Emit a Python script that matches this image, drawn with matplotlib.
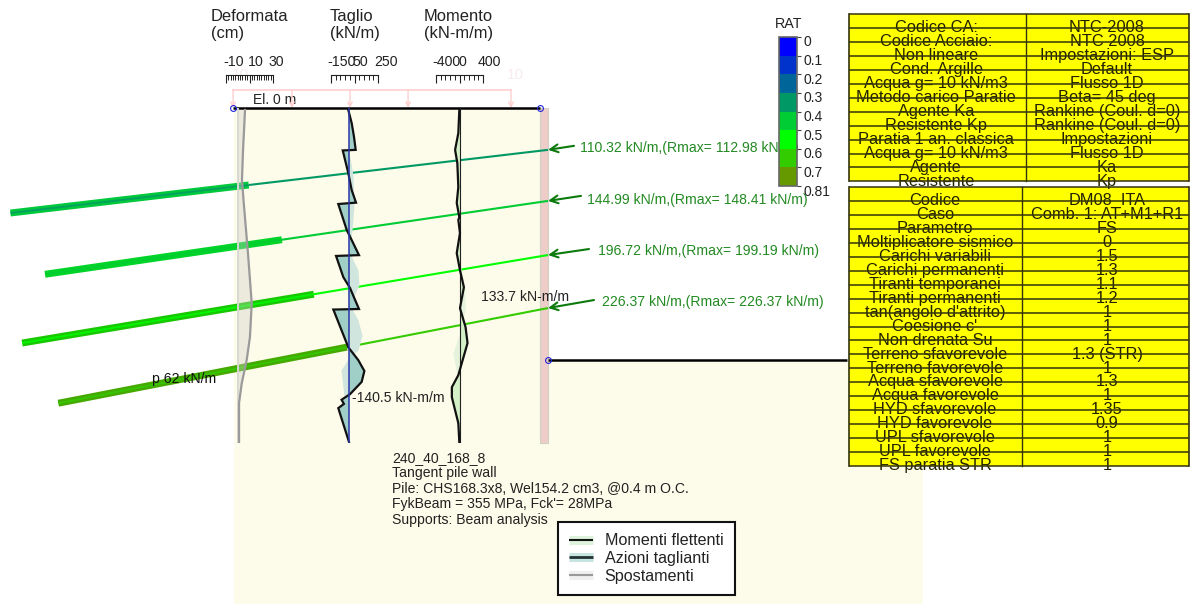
import numpy as np
import matplotlib
matplotlib.use("Agg")
import matplotlib.pyplot as plt
from matplotlib.colors import ListedColormap, BoundaryNorm
from matplotlib.colorbar import Colorbar
from matplotlib.lines import Line2D
from matplotlib.patches import Rectangle, Polygon
from matplotlib.ticker import FixedLocator, FixedFormatter
from matplotlib.transforms import ScaledTranslation
import matplotlib.patheffects as pe

plt.rcParams['font.family'] = ['Liberation Sans', 'DejaVu Sans']

# ---------- data ----------
WALL_DEPTH = 12.0
SHEAR_DEPTH = [.07, .54, 1.04, 1.5, 1.52, 2.33, 2.94, 3.39, 3.44, 4.37, 4.73, 5.27, 5.30, 6.06, 6.45, 7.20, 7.22, 8.57, 9.03, 9.42, 9.81, 10.25, 10.45, 10.6, 10.75, 11.96]
SHEAR_VAL = [-3, 26, 46, 60, -50, -3, 26, 63, -88, -16, 26, 88, -107, -45, 12, 88, -130, -3, 82, 134, 111, 12, -60, -40, -88, 3]
SHEAR_GHOST_DEPTH = [1.5, 2.4, 3.48, 4.37, 4.91, 5.38, 5.81, 6.34, 6.81, 7.06, 7.6, 8.14, 8.67, 8.96, 9.39, 10.29, 10.54]
SHEAR_GHOST_VAL = [0, 37, 46, 29, 12, 29, 80, 88, 37, 12, 80, 114, 80, 0, -65, -40, 0]
MOMENT_DEPTH = [.07, .9, 1.5, 1.97, 2.83, 3.4, 3.91, 4.01, 4.48, 5.2, 5.81, 6.42, 7.17, 7.85, 8.42, 9.57, 10.0, 10.36, 11.29, 11.97]
MOMENT_VAL = [-3, -20, -75, -37, -20, -47, -3, -20, 8, -47, 8, 75, 8, 103, 137, -20, -130, -130, -20, -3]
MOMENT_GHOST_DEPTH = [5.5, 6.4, 7.17, 7.6, 8.06, 8.78, 9.5, 9.75]
MOMENT_GHOST_VAL = [0, 90, 100, 60, 0, -113, -45, 0]
DISP_DEPTH = [.07, 1.5, 2.58, 3.4, 5.2, 7.0, 8.2, 9.03, 9.86, 10.57, 12.0]
DISP_VAL = [6.2, 4.5, 3.6, 5.1, 8.7, 11.9, 10.4, 7.6, 3.4, 1.1, 1.1]

ANCHOR_DEPTH = [1.5, 3.33, 5.27, 7.17]
ANCHOR_ANGLE = [6.7, 8.3, 9.5, 11.0]
ANCHOR_FREE = [10.8, 9.64, 8.51, 7.34]
ANCHOR_BOND = [8.6, 8.58, 10.6, 10.54]
ANCHOR_RAT = [0.35, 0.45, 0.55, 0.65]
ANCHOR_FORCE = [110.32, 144.99, 196.72, 226.37]
ANCHOR_RMAX = [112.98, 148.41, 199.19, 226.37]

LOAD_POS = [-11.0, -8.89, -6.81, -4.73, -1.04]
LOAD_VAL = 10
STRUT_DEPTH = 9.03
STRUT_LEN = 10.7

RAT_BOUNDS = [0, .1, .2, .3, .4, .5, .6, .7, .81]
RAT_LABELS = ['0', '0.1', '0.2', '0.3', '0.4', '0.5', '0.6', '0.7', '0.81']
RAT_COLORS = ['#0000ff', '#0033cc', '#006699', '#009966', '#00cc33', '#00ff00', '#33cc00', '#669900']

TABLE1_LEFT = ['Codice CA:', 'Codice Acciaio:', 'Non lineare', 'Cond. Argille', 'Acqua g= 10 kN/m3',
               'Metodo carico Paratie', 'Agente Ka', 'Resistente Kp', 'Paratia 1 an. classica',
               'Acqua g= 10 kN/m3', 'Agente', 'Resistente']
TABLE1_RIGHT = ['NTC-2008', 'NTC 2008', 'Impostazioni: ESP', 'Default', 'Flusso 1D', 'Beta= 45 deg',
                'Rankine (Coul. d=0)', 'Rankine (Coul. d=0)', 'Impostazioni', 'Flusso 1D', 'Ka', 'Kp']
TABLE2_LEFT = ['Codice', 'Caso', 'Parametro', 'Moltiplicatore sismico', 'Carichi variabili', 'Carichi permanenti',
               'Tiranti temporanei', 'Tiranti permanenti', "tan(angolo d'attrito)", "Coesione c'", 'Non drenata Su',
               'Terreno sfavorevole', 'Terreno favorevole', 'Acqua sfavorevole', 'Acqua favorevole',
               'HYD sfavorevole', 'HYD favorevole', 'UPL sfavorevole', 'UPL favorevole', 'FS paratia STR']
TABLE2_RIGHT = ['DM08_ITA', 'Comb. 1: AT+M1+R1', 'FS', '0', '1.5', '1.3', '1.1', '1.2', '1', '1', '1', '1.3 (STR)',
                '1', '1.3', '1', '1.35', '0.9', '1', '1', '1']
INFO_LINES = ['240_40_168_8', 'Tangent pile wall', 'Pile: CHS168.3x8, Wel154.2 cm3, @0.4 m O.C.',
              "FykBeam = 355 MPa, Fck'= 28MPa", 'Supports: Beam analysis']
LEGEND_LABELS = ['Momenti flettenti', 'Azioni taglianti', 'Spostamenti']

# ---------- layout ----------
W, H = 1190, 604
PX_M = 27.9
TOP_PX, BOT_PX, WALL_PX = 108, 443, 540
fig = plt.figure(figsize=(W / 100, H / 100), dpi=100, facecolor='white')


def overlay(z):
    a = fig.add_axes([0, 0, 1, 1], zorder=z)
    a.set_xlim(0, W)
    a.set_ylim(H, 0)
    a.axis('off')
    return a


base = overlay(0)
top = overlay(6)
model = fig.add_axes([0, 0, 1, 1], zorder=1)
model.set_xlim(-WALL_PX / PX_M, (W - WALL_PX) / PX_M)
model.set_ylim((H - TOP_PX) / PX_M, -TOP_PX / PX_M)
model.axis('off')

CREAM = '#FDFBE9'
base.add_patch(Polygon([(234, 108), (540, 108), (540, 360), (923, 360), (923, 604), (234, 604)],
                       closed=True, fc=CREAM, ec='none', zorder=0))


def table(ax, left, right, y0, xmid, lc, rc):
    rh = 13.95
    x0, x1 = 849, 1189
    n = len(left)
    y1 = y0 + n * rh
    ax.add_patch(Rectangle((x0, y0), x1 - x0, n * rh, fc='#FFFF00', ec='none', zorder=2))
    for i, (a, b) in enumerate(zip(left, right)):
        yy = y0 + (i + 1) * rh - 0.3
        ax.text(lc, yy, a, ha='center', va='center', fontsize=11.8, color='#222200', zorder=3, clip_on=False)
        ax.text(rc, yy, b, ha='center', va='center', fontsize=11.8, color='#222200', zorder=3, clip_on=False)
    for i in range(n + 1):
        ax.plot([x0, x1], [y0 + i * rh] * 2, color='#33330c', lw=1.1, zorder=4, solid_capstyle='butt')
    ax.plot([x0, x0], [y0, y1], color='#33330c', lw=1.2, zorder=4)
    ax.plot([x1, x1], [y0, y1], color='#33330c', lw=1.2, zorder=4)
    ax.plot([xmid, xmid], [y0, y1], color='#33330c', lw=1.0, zorder=4)


table(base, TABLE1_LEFT, TABLE1_RIGHT, 14, 1025.5, 936, 1107)
table(base, TABLE2_LEFT, TABLE2_RIGHT, 187, 1021.7, 935, 1107)

# headers
for x, txt in [(211, 'Deformata\n(cm)'), (330, 'Taglio\n(kN/m)'), (424, 'Momento\n(kN-m/m)')]:
    base.text(x, 25, txt, ha='left', va='center', fontsize=11.9, color='#222222', linespacing=1.12)
base.text(253, 100, 'El. 0 m', ha='left', va='center', fontsize=10, color='#222222', zorder=3)
for x in (240, 515):
    base.text(x, 75, str(LOAD_VAL), ha='center', va='center', fontsize=11, color='#F7ECEC')
for yy, line in zip((458, 473, 489, 504, 520), INFO_LINES):
    base.text(392, yy, line, ha='left', va='center', fontsize=10.05, color='#222222')

# model: wall, loads, anchors
WALL_T = 8 / PX_M
model.add_patch(Rectangle((0, 0), WALL_T, WALL_DEPTH, fc='#EECDC8', ec='#cfcfc4', lw=0.8, zorder=1))
LOAD_H = 1.8 / LOAD_VAL * 10 / PX_M * 10
PINK = '#FFCFCF'
model.plot([min(LOAD_POS), max(LOAD_POS)], [-LOAD_H, -LOAD_H], color=PINK, lw=1.2, zorder=1)
for p in LOAD_POS:
    model.annotate('', xy=(p, 0), xytext=(p, -LOAD_H),
                   arrowprops=dict(arrowstyle='->', color=PINK, lw=1.0, shrinkA=0, shrinkB=0, mutation_scale=8))
model.plot([LOAD_POS[0], 0], [0, 0], color='black', lw=1.8, zorder=4, solid_capstyle='butt')
model.plot([WALL_T, WALL_T + STRUT_LEN], [STRUT_DEPTH] * 2, color='black', lw=1.8, zorder=4, solid_capstyle='butt')
model.plot([LOAD_POS[0], 0, WALL_T], [0, 0, STRUT_DEPTH], ls='none', marker='o', ms=4.2, mfc='none',
           mec='#2222dd', mew=0.8, zorder=5, clip_on=False)

cmap = ListedColormap(RAT_COLORS)
norm = BoundaryNorm(RAT_BOUNDS, cmap.N)
BOND_OUTER = ['#00c83c', '#00d428', '#18c800', '#44aa00']
LABEL_X = [580, 587, 598, 602]
LABEL_Y = [148, 200, 251, 302]
TAIL = [(26, -4), (33, -5), (41, -6), (46, -8)]
for i in range(4):
    a = np.deg2rad(ANCHOR_ANGLE[i])
    hx, hy = WALL_T, ANCHOR_DEPTH[i]
    fx, fy = hx - ANCHOR_FREE[i] * np.cos(a), hy + ANCHOR_FREE[i] * np.sin(a)
    bl = ANCHOR_FREE[i] + ANCHOR_BOND[i]
    ex, ey = hx - bl * np.cos(a), hy + bl * np.sin(a)
    c = cmap(norm(ANCHOR_RAT[i]))
    model.plot([hx, fx], [hy, fy], color=c, lw=1.5, zorder=2, solid_capstyle='butt')
    model.plot([fx, ex], [fy, ey], color=BOND_OUTER[i], lw=5.0, zorder=2, solid_capstyle='butt')
    model.plot([fx, ex], [fy, ey], color=c, lw=1.4, alpha=0.8, zorder=2, solid_capstyle='butt')
    dx, dy = TAIL[i]
    model.annotate('', xy=(hx, hy), xytext=(hx + dx / PX_M, hy + dy / PX_M),
                   arrowprops=dict(arrowstyle='->', color='#0c7a0c', lw=1.5, shrinkA=0, shrinkB=0, mutation_scale=14),
                   zorder=5)
    base.text(LABEL_X[i], LABEL_Y[i], f'{ANCHOR_FORCE[i]:.2f} kN/m,(Rmax= {ANCHOR_RMAX[i]:.2f} kN/m)',
              ha='left', va='center', fontsize=10.1, color='#238a23', zorder=1)


# diagrams
def diagram(x0, x1, lo, hi, majors, minors, labels, z, shift):
    ax = fig.add_axes([x0 / W, 1 - BOT_PX / H, (x1 - x0) / W, (BOT_PX - TOP_PX) / H], zorder=z)
    ax.patch.set_alpha(0)
    ax.set_xlim(lo, hi)
    ax.set_ylim(WALL_DEPTH, 0)
    ax.yaxis.set_visible(False)
    for s in ('left', 'right', 'bottom'):
        ax.spines[s].set_visible(False)
    sp = ax.spines['top']
    sp.set_position(('outward', 33 * 0.72))
    sp.set_linewidth(0.8)
    sp.set_color('#222222')
    ax.xaxis.set_ticks_position('top')
    ax.xaxis.set_major_locator(FixedLocator(majors))
    ax.xaxis.set_major_formatter(FixedFormatter(labels))
    ax.xaxis.set_minor_locator(FixedLocator(minors))
    ax.tick_params(axis='x', which='major', direction='in', length=6, width=0.8, pad=4, labelsize=10.2,
                   labelcolor='#222222', color='#222222')
    ax.tick_params(axis='x', which='minor', direction='in', length=3.4, width=0.7, color='#222222')
    for lab, sh in zip(ax.get_xticklabels(), shift):
        lab.set_horizontalalignment('left')
        lab.set_transform(lab.get_transform() + ScaledTranslation(sh / 100, 0, fig.dpi_scale_trans))
    return ax


dep = diagram(226, 273, -10, 30, [-10, 10, 30], list(range(-8, 30, 2)), ['-10', '10', '30'], 3, (-3, -2, -4))
she = diagram(331, 378, -150, 250, [-150, 50, 250], list(range(-110, 250, 40)), ['-150', '50', '250'], 2, (-4, -2.5, -4))
mom = diagram(436, 483, -400, 400, [-400, 0, 400], list(range(-320, 400, 80)), ['-400', '0', '400'], 2, (-4, -1, -5))

dep.fill_betweenx(DISP_DEPTH, 0, DISP_VAL, color='#CFCFCB', alpha=0.38, lw=0)
dep.plot([0, 0], [0, WALL_DEPTH], color='#D8D8D2', lw=1.4)
dep.plot(DISP_VAL, DISP_DEPTH, color='#9a9a9a', lw=1.6)

she.fill_betweenx(SHEAR_GHOST_DEPTH, 0, SHEAR_GHOST_VAL, color='#CFE5DD', lw=0)
she.fill_betweenx(SHEAR_DEPTH, 0, SHEAR_VAL, color='#A0CFC8', lw=0)
she.plot(SHEAR_VAL, SHEAR_DEPTH, color='#111111', lw=1.6, solid_joinstyle='miter')
she.plot([0, 0], [0, WALL_DEPTH], color='#2a35a8', lw=1.1)

mom.fill_betweenx(MOMENT_GHOST_DEPTH, 0, MOMENT_GHOST_VAL, color='#E6F3DC', lw=0)
mom.fill_betweenx(MOMENT_DEPTH, 0, MOMENT_VAL, color='#D3F0C6', lw=0)
mom.plot([0, 0], [0, WALL_DEPTH], color='#222222', lw=0.8)
mom.plot(MOMENT_VAL, MOMENT_DEPTH, color='#111111', lw=1.6)

# text above marks
top.text(481, 297, '133.7 kN-m/m', ha='left', va='center', fontsize=10.1, color='#222222')
top.text(352, 398, '-140.5 kN-m/m', ha='left', va='center', fontsize=10.1, color='#222222')
top.text(152, 379, 'p 62 kN/m', ha='left', va='center', fontsize=10.1, color='#111111')

# colour scale
cax = fig.add_axes([778.5 / W, 1 - 186 / H, 18 / W, 149 / H], zorder=4)
cb = Colorbar(cax, cmap=cmap, norm=norm, ticks=RAT_BOUNDS, spacing='uniform', drawedges=True)
cb.ax.invert_yaxis()
cb.ax.set_yticks(RAT_BOUNDS, RAT_LABELS)
cb.ax.minorticks_off()
cb.outline.set_edgecolor('#666666')
cb.outline.set_linewidth(1.2)
cb.dividers.set_color('#333333')
cb.dividers.set_linewidth(0.6)
cb.ax.tick_params(axis='y', length=3, width=0.8, pad=2, labelsize=10, labelcolor='#222222', color='#444444')
for lab in cb.ax.get_yticklabels():
    lab.set_transform(lab.get_transform() + ScaledTranslation(0, -4 / 100, fig.dpi_scale_trans))
top.text(789, 24, 'RAT', ha='center', va='center', fontsize=10.3, color='#222222')

# legend
handles = [
    Line2D([], [], color='#111111', lw=1.5, solid_capstyle='butt',
           path_effects=[pe.Stroke(linewidth=6.5, foreground='#DDF3DC', capstyle='butt'), pe.Normal()]),
    Line2D([], [], color='#223333', lw=2.0, solid_capstyle='butt',
           path_effects=[pe.Stroke(linewidth=6.5, foreground='#C6E5E0', capstyle='butt'), pe.Normal()]),
    Line2D([], [], color='#999999', lw=1.5, solid_capstyle='butt',
           path_effects=[pe.Stroke(linewidth=6.5, foreground='#EFEFEF', capstyle='butt'), pe.Normal()]),
]
leg = top.legend(handles, LEGEND_LABELS, loc='upper left', bbox_to_anchor=(558 / W, 1 - 522 / H),
                 bbox_transform=fig.transFigure, fontsize=11.6, frameon=True, fancybox=False, framealpha=1,
                 edgecolor='#111111', borderaxespad=0, borderpad=0.7, labelspacing=0.17, handlelength=1.45,
                 handletextpad=0.75)
leg.get_frame().set_linewidth(1.5)
for t in leg.get_texts():
    t.set_color('#222222')

fig.savefig('out.png', dpi=100)
